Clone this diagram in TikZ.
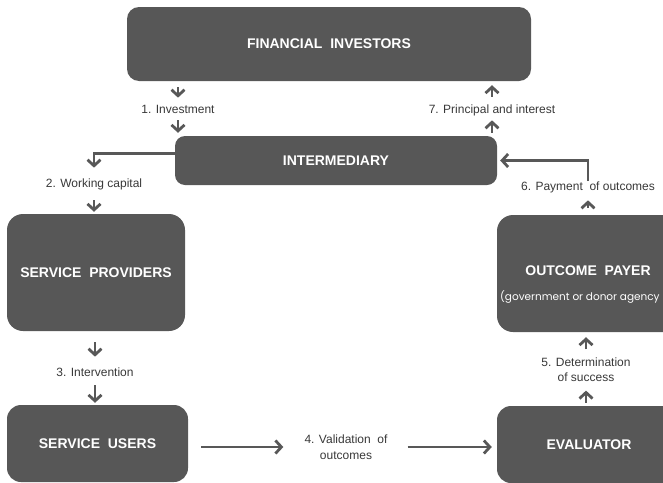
\documentclass[tikz,border=0pt]{standalone}
\usepackage{fontspec}
\setmainfont{Liberation Sans}
\newfontfamily\subtitlefont{Poppins}
\usetikzlibrary{arrows.meta}
\definecolor{boxgray}{HTML}{575757}
\definecolor{linegray}{HTML}{585858}
\definecolor{labelgray}{HTML}{383838}
\begin{document}
\begin{tikzpicture}[x=1pt,y=-1pt,
  box/.style={fill=boxgray, draw=none, rounded corners=#1, text=white,
    font=\bfseries\fontsize{14}{16}\selectfont, inner sep=0pt},
  titletext/.style={text=white, font=\bfseries\fontsize{14}{16}\selectfont, inner sep=0pt},
  lbl/.style={text=labelgray, font=\fontsize{12}{15.5}\selectfont, inner sep=0pt,
    text height=8.7pt, text depth=2.6pt},
  lbltwo/.style={text=labelgray, font=\fontsize{12}{15.5}\selectfont, inner sep=0pt, align=center},
  flow/.style={draw=linegray, line width=2.8pt, -{Straight Barb[length=6pt,width=13pt]}}]

\useasboundingbox (0,0) rectangle (663,482);
\clip (0,0) rectangle (663,482);

% boxes
\node[box=12pt, minimum width=404pt, minimum height=74pt] (fi) at (329,44) {FINANCIAL\ \ INVESTORS};
\node[box=10pt, minimum width=322pt, minimum height=49pt] (inter) at (336,160.5) {INTERMEDIARY};
\node[box=16pt, minimum width=178pt, minimum height=117pt] (sp) at (96,272.5) {SERVICE\ \ PROVIDERS};
\node[box=14pt, minimum width=181pt, minimum height=77pt] (su) at (97.5,443.5) {SERVICE\ \ USERS};
\node[box=16pt, minimum width=182pt, minimum height=117pt] (op) at (588,273.5) {};
\node[titletext] (optitle) at (588,271) {OUTCOME\ \ PAYER};
\node[text=white, inner sep=0pt, anchor=west, font=\subtitlefont\fontsize{10.5}{13}\selectfont] (opsub) at (500,297) {(government or donor agency};
\node[box=14pt, minimum width=184pt, minimum height=77pt] (ev) at (589,444.5) {EVALUATOR};

% flow labels
\node[lbl] (l1) at (178,110) {1. Investment};
\node[lbl] (l7) at (492,110) {7. Principal and interest};
\node[lbl] (l2) at (94,184) {2. Working capital};
\node[lbl] (l3) at (95,373) {3. Intervention};
\node[lbltwo] (l4) at (346,447) {4. Validation\ \ of\\outcomes};
\node[lbltwo] (l5) at (586,369.5) {5. Determination\\of success};
\node[lbl] (l6) at (588,187) {6. Payment\ \ of outcomes};

% flows
\draw[flow, shorten <=6pt, shorten >=6.5pt] (fi.south -| l1.north) -- (l1.north);
\draw[flow, shorten <=4.5pt, shorten >=3pt] (l1.south) -- (inter.north -| l1.south);
\draw[flow, shorten <=3pt, shorten >=4.5pt] (inter.north -| l7.south) -- (l7.south);
\draw[flow, shorten <=7.5pt, shorten >=4pt] (l7.north) -- (fi.south -| l7.north);
\draw[flow, shorten >=10.5pt] ([yshift=7pt]inter.west) -| (l2.north);
\draw[flow, shorten <=10.5pt, shorten >=2pt] (l2.south) -- (sp.north -| l2.south);
\draw[flow, shorten <=11pt, shorten >=10.5pt] (sp.south -| l3.north) -- (l3.north);
\draw[flow, shorten <=6.5pt, shorten >=2pt] (l3.south) -- (su.north -| l3.south);
\draw[flow, shorten <=13pt, shorten >=21pt] (su.east |- l4.west) -- (l4.west);
\draw[flow, shorten <=20pt, shorten >=5pt] (l4.east) -- (ev.west |- l4.east);
\draw[flow, shorten <=3pt, shorten >=8.75pt] (ev.north -| l5.south) -- (l5.south);
\draw[flow, shorten <=7.75pt, shorten >=5pt] (l5.north) -- (op.south -| l5.north);
\draw[flow, shorten <=7pt, shorten >=7.5pt] (op.north -| l6.south) -- (l6.south);
\draw[flow, shorten >=3pt] (l6.north) |- (inter.east);
\end{tikzpicture}
\end{document}
